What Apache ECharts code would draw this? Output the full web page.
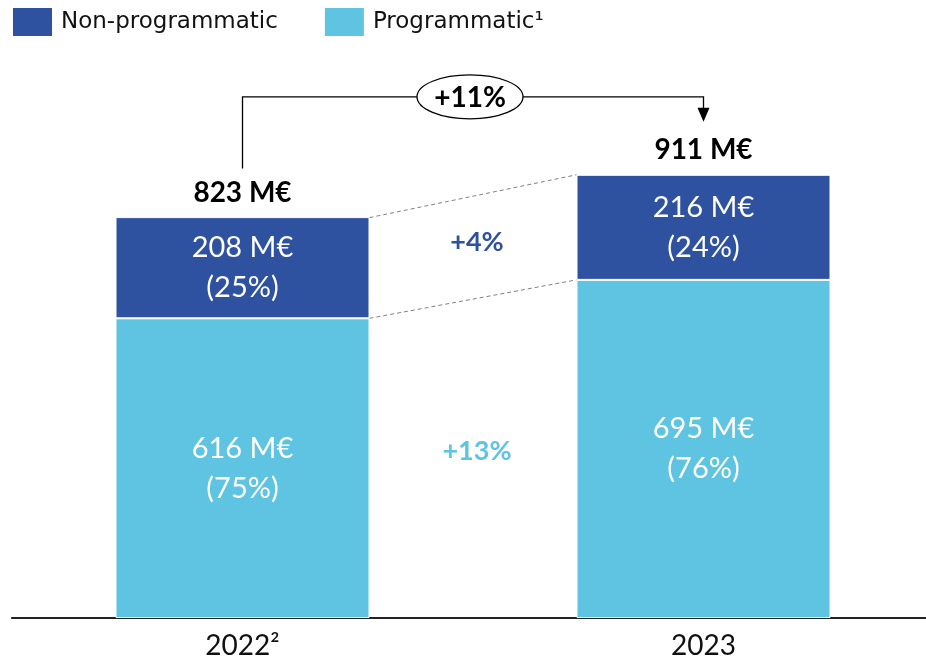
<!DOCTYPE html>
<html><head><meta charset="utf-8">
<script src="https://cdn.jsdelivr.net/npm/echarts@6/dist/echarts.min.js"></script>
<style>html,body{margin:0;padding:0;background:#fff}#c{width:926px;height:664px}</style>
</head><body><div id="c"></div>
<script>
const categories = ['2022²', '2023'];
const nonProgrammatic = [208, 216];
const programmatic = [616, 695];
const nonProgPct = [25, 24];
const progPct = [75, 76];
const totals = [823, 911];
const segmentGrowth = ['+4%', '+13%'];
const totalGrowth = '+11%';

const DARK = '#2E52A0', LIGHT = '#5EC4E2';
const FONT = 'Lato';
const chart = echarts.init(document.getElementById('c'), null, {renderer: 'canvas'});

const option = {
  animation: false,
  legend: {
    left: 6, top: 1, itemWidth: 41, itemHeight: 30, itemGap: 45,
    icon: 'rect',
    textStyle: {fontFamily: 'DejaVu Sans', fontSize: 23, color: '#111', padding: [2, 0, 0, 3]},
    data: ['Non-programmatic', 'Programmatic¹']
  },
  grid: {left: 12, width: 922, bottom: 46, top: 618 - 0.4865 * 1000, outerBoundsMode: 'none', containLabel: false},
  xAxis: {
    type: 'category', data: categories,
    axisLine: {lineStyle: {color: '#222', width: 2}},
    axisTick: {show: false},
    axisLabel: {fontFamily: FONT, fontSize: 28, color: '#111', margin: 14}
  },
  yAxis: {type: 'value', min: 0, max: 1000, show: false, splitLine: {show: false}},
  series: [
    {
      name: 'Programmatic¹', type: 'bar', stack: 's', barWidth: 254,
      data: programmatic,
      itemStyle: {color: LIGHT, borderColor: '#fff', borderWidth: 1},
      label: {show: true, position: 'inside', color: '#fff', fontFamily: FONT, fontSize: 29, lineHeight: 40,
        formatter: p => p.value + ' M€\n(' + progPct[p.dataIndex] + '%)'}
    },
    {
      name: 'Non-programmatic', type: 'bar', stack: 's', barWidth: 254,
      data: nonProgrammatic,
      itemStyle: {color: DARK, borderColor: '#fff', borderWidth: 1},
      label: {show: true, position: 'inside', color: '#fff', fontFamily: FONT, fontSize: 29, lineHeight: 40,
        formatter: p => p.value + ' M€\n(' + nonProgPct[p.dataIndex] + '%)'}
    }
  ]
};
chart.setOption(option);

const px = (i, v) => chart.convertToPixel({xAxisIndex: 0, yAxisIndex: 0}, [i, v]);
const half = 127;
const t0 = px(0, totals[0]), t1 = px(1, totals[1]);
const b0 = px(0, programmatic[0]), b1 = px(1, programmatic[1]);
const base0 = px(0, 0);
const g = [];
// totals
[t0, t1].forEach((p, i) => g.push({type: 'text', x: p[0], y: p[1] - 25,
  style: {text: totals[i] + ' M€', font: 'bold 28px ' + FONT, fill: '#000', align: 'center', verticalAlign: 'middle'}}));
// dashed connectors
g.push({type: 'line', shape: {x1: t0[0] + half, y1: t0[1], x2: t1[0] - half, y2: t1[1]},
  style: {stroke: '#808080', lineWidth: 1, lineDash: [4, 3]}});
g.push({type: 'line', shape: {x1: b0[0] + half, y1: b0[1], x2: b1[0] - half, y2: b1[1]},
  style: {stroke: '#808080', lineWidth: 1, lineDash: [4, 3]}});
const midX = (t0[0] + t1[0]) / 2;
const upY = ((t0[1] + t1[1]) / 2 + (b0[1] + b1[1]) / 2) / 2 - 5;
const loY = ((b0[1] + b1[1]) / 2 + base0[1]) / 2 - 7;
g.push({type: 'text', x: midX + 4, y: upY, style: {text: segmentGrowth[0], font: 'bold 27px ' + FONT, fill: DARK, align: 'center', verticalAlign: 'middle'}});
g.push({type: 'text', x: midX + 4, y: loY, style: {text: segmentGrowth[1], font: 'bold 27px ' + FONT, fill: LIGHT, align: 'center', verticalAlign: 'middle'}});
// bracket arrow
const hy = t1[1] - 78;
const tipY = t1[1] - 53;
g.push({type: 'polyline', shape: {points: [[t0[0], t0[1] - 49], [t0[0], hy], [t1[0], hy], [t1[0], tipY - 12]]},
  style: {stroke: '#000', lineWidth: 1.3, fill: null}});
g.push({type: 'polygon', shape: {points: [[t1[0] - 6, tipY - 14], [t1[0] + 6, tipY - 14], [t1[0], tipY]]},
  style: {fill: '#000'}});
g.push({type: 'ellipse', shape: {cx: midX - 3, cy: hy, rx: 53, ry: 22},
  style: {fill: '#fff', stroke: '#000', lineWidth: 1.3}});
g.push({type: 'text', x: midX - 3, y: hy + 1, style: {text: totalGrowth, font: 'bold 28px ' + FONT, fill: '#000', align: 'center', verticalAlign: 'middle'}});
chart.setOption({graphic: {elements: g}});
</script></body></html>
